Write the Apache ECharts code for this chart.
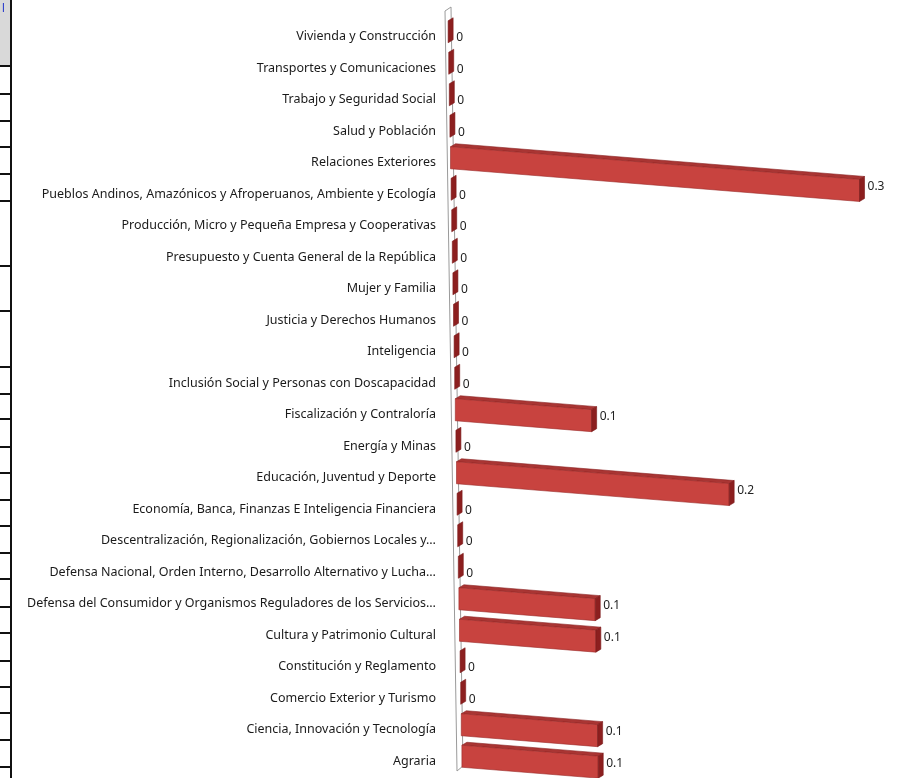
<!DOCTYPE html>
<html><head><meta charset="utf-8">
<script src="https://cdn.jsdelivr.net/npm/echarts@6/dist/echarts.min.js"></script>
<style>html,body{margin:0;padding:0;background:#fff}#c{width:899px;height:778px}</style>
</head><body><div id="c"></div>
<script>
const categories = [
  "Vivienda y Construcción",
  "Transportes y Comunicaciones",
  "Trabajo y Seguridad Social",
  "Salud y Población",
  "Relaciones Exteriores",
  "Pueblos Andinos, Amazónicos y Afroperuanos, Ambiente y Ecología",
  "Producción, Micro y Pequeña Empresa y Cooperativas",
  "Presupuesto y Cuenta General de la República",
  "Mujer y Familia",
  "Justicia y Derechos Humanos",
  "Inteligencia",
  "Inclusión Social y Personas con Doscapacidad",
  "Fiscalización y Contraloría",
  "Energía y Minas",
  "Educación, Juventud y Deporte",
  "Economía, Banca, Finanzas E Inteligencia Financiera",
  "Descentralización, Regionalización, Gobiernos Locales y…",
  "Defensa Nacional, Orden Interno, Desarrollo Alternativo y Lucha…",
  "Defensa del Consumidor y Organismos Reguladores de los Servicios…",
  "Cultura y Patrimonio Cultural",
  "Constitución y Reglamento",
  "Comercio Exterior y Turismo",
  "Ciencia, Innovación y Tecnología",
  "Agraria"
];
const values = [0, 0, 0, 0, 0.3, 0, 0, 0, 0, 0, 0, 0, 0.1, 0, 0.2, 0, 0, 0, 0.1, 0.1, 0, 0, 0.1, 0.1];

const tableLinesY = [66, 94, 121, 147, 174, 201, 266, 311, 367, 394, 419, 447, 473, 500, 526, 553, 579, 607, 633, 661, 687, 713, 740, 767];

function renderItem(params, api) {
  const v = api.value(0), i = api.value(1);
  const p0 = api.coord([0, i]);
  const p1 = api.coord([v, i]);
  const yc = p0[1];
  const skew = (yc - 30) * 0.019;
  const x0 = p0[0] + skew, x1 = p1[0] + skew;
  const sh = (x1 - x0) * 0.08;
  const top = yc - 16, bot = yc + 6, d = 5, up = 3;
  const children = [];
  if (v > 0) {
    children.push({type: 'polygon', shape: {points: [[x0, top], [x0 + d, top - up], [x1 + d, top - up + sh], [x1, top + sh]]},
      style: {fill: '#a93533', stroke: '#8a2222', lineWidth: 0.6}});
    children.push({type: 'polygon', shape: {points: [[x0, top], [x1, top + sh], [x1, bot + sh], [x0, bot]]},
      style: {fill: '#c8433f', stroke: '#9a2a28', lineWidth: 0.6}});
  }
  children.push({type: 'polygon', shape: {points: [[x1, top + sh], [x1 + d, top - up + sh], [x1 + d, bot - up + sh], [x1, bot + sh]]},
    style: {fill: '#8c1f1f', stroke: '#7a1a1a', lineWidth: 0.6}});
  children.push({type: 'text', style: {x: x1 + d + 3, y: v > 0 ? top + sh + 7 : yc + 1, text: String(v),
    fontSize: 12, fontFamily: 'Noto Sans', fill: '#222', verticalAlign: 'middle', align: 'left'}});
  return {type: 'group', children};
}

const graphics = [
  {type: 'rect', shape: {x: 0, y: 0, width: 11, height: 66}, style: {fill: '#d9d9d9'}, z: 0},
  {type: 'text', style: {x: 2, y: 2, text: 'l', fontSize: 13, fill: '#3344cc', fontFamily: 'Liberation Sans'}, z: 1},
  {type: 'line', shape: {x1: 11, y1: 0, x2: 11, y2: 778}, style: {stroke: '#111', lineWidth: 2}, z: 1},
  {type: 'polygon', shape: {points: [[445, 11], [451, 7], [463, 766], [457, 771]]}, style: {fill: 'none', stroke: '#9a9a9a', lineWidth: 1}, z: 0}
];
tableLinesY.forEach(y => graphics.push({type: 'line', shape: {x1: 0, y1: y, x2: 11, y2: y}, style: {stroke: '#111', lineWidth: 2}, z: 1}));

const chart = echarts.init(document.getElementById('c'));
chart.setOption({
  animation: false,
  grid: {left: 448, right: 42, top: 21, bottom: 1},
  xAxis: {type: 'value', min: 0, max: 0.3, show: false},
  yAxis: {type: 'category', data: categories, inverse: true,
    axisLine: {show: false}, axisTick: {show: false}, splitLine: {show: false},
    axisLabel: {margin: 12, fontSize: 12.5, color: '#1a1a1a', fontFamily: 'Noto Sans', interval: 0}},
  graphic: graphics,
  series: [{type: 'custom', renderItem, data: values.map((v, i) => [v, i]), encode: {x: 0, y: 1}, z: 3}]
});
</script></body></html>
